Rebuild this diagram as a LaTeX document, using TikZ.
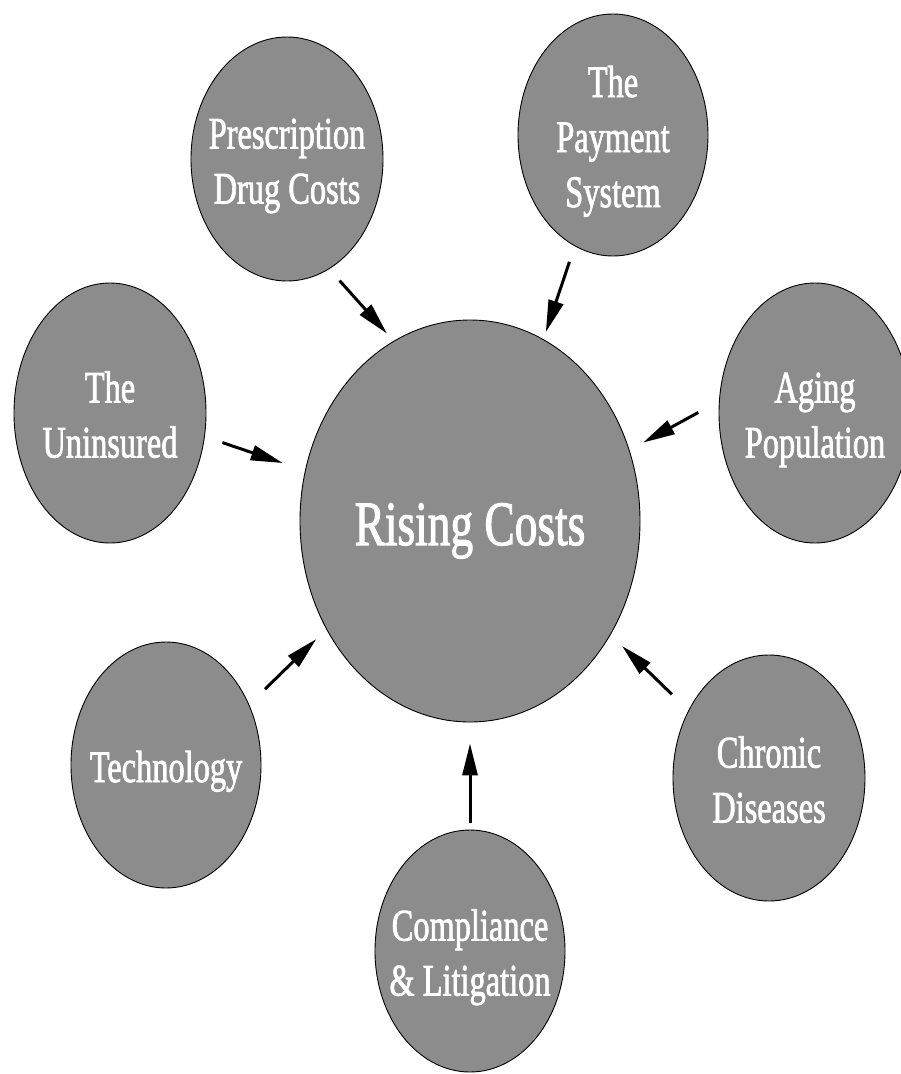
\documentclass[tikz,border=0pt]{standalone}
\usepackage{fontspec}
\setmainfont{Liberation Serif}[FakeBold=2]
\usetikzlibrary{arrows.meta, shapes.geometric}
\usepackage{xcolor}
\definecolor{bubgray}{RGB}{140,140,140}
\newcommand{\bubtext}[1]{\scalebox{0.72}[1]{\begin{tabular}{@{}c@{}}#1\end{tabular}}}

\begin{document}
\begin{tikzpicture}[x=1pt, y=-1pt,
  bubble/.style={ellipse, draw=black, fill=bubgray, line width=0.9pt, inner sep=0pt},
  bubtxt/.style={text=white, font=\fontsize{45}{55}\selectfont, inner sep=0pt, yshift=-6pt},
  feed/.style={-{Triangle[length=32pt, width=15pt]}, line width=3pt}]
  \useasboundingbox (0,0) rectangle (900,1074);
  % centre
  \node[bubble, minimum width=340pt, minimum height=402pt] (rising) at (470,521) {};
  \node[text=white, font=\fontsize{63}{70}\selectfont, inner sep=0pt, yshift=-10pt] (rising-txt) at (rising) {\bubtext{Rising Costs}};
  % causes
  \foreach \nm/\x/\y/\rx/\ry/\txt in {
      drug/287/159/192/244/{Prescription\\Drug Costs},
      payment/613/135/190/242/{The\\Payment\\System},
      uninsured/110/413/192/260/{The\\Uninsured},
      aging/815/413/192/260/{Aging\\Population},
      tech/166/765/190/246/{Technology},
      chronic/769/778/192/246/{Chronic\\Diseases},
      comply/470/951/190/242/{Compliance\\\& Litigation}} {
    \node[bubble, minimum width=\rx pt, minimum height=\ry pt] (\nm) at (\x,\y) {};
    \node[bubtxt] (\nm-txt) at (\nm) {\bubtext{\txt}};
  }
  % arrows into the centre
  \foreach \a/\b/\s/\e in {drug.-69/rising.113/15.5/10, uninsured.-14/rising.163/18.5/23.5,
      payment.-109/rising.68/16.5/7.5, aging.173/rising.24/23.5/15.5,
      tech.36/rising.-143/22/14, chronic.140/rising.-39/23/16, comply.90/rising.-90/7/21} {
    \draw[feed, shorten <=\s pt, shorten >=\e pt] (\a) -- (\b);
  }
\end{tikzpicture}
\end{document}
